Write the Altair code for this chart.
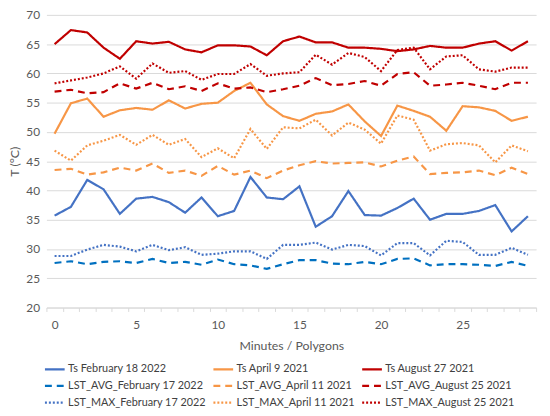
import altair as alt
import pandas as pd

minutes = list(range(30))

series_names = [
    "Ts February 18 2022", "Ts April 9 2021", "Ts August 27 2021",
    "LST_AVG_February 17 2022", "LST_AVG_April 11 2021", "LST_AVG_August 25 2021",
    "LST_MAX_February 17 2022", "LST_MAX_April 11 2021", "LST_MAX_August 25 2021",
]

ts_feb = [35.7, 37.2, 41.8, 40.2, 36.0, 38.6, 38.9, 38.0, 36.2, 38.8,
          35.6, 36.5, 42.3, 38.8, 38.5, 40.7, 33.8, 35.6, 39.9, 35.8,
          35.7, 37.0, 38.6, 35.0, 36.0, 36.0, 36.5, 37.5, 33.0, 35.6]
ts_apr = [49.7, 54.9, 55.7, 52.6, 53.7, 54.1, 53.8, 55.4, 54.0, 54.8,
          55.0, 57.0, 58.4, 54.7, 52.7, 51.9, 53.1, 53.5, 54.7, 51.8,
          49.3, 54.5, 53.6, 52.6, 50.2, 54.4, 54.2, 53.6, 51.9, 52.6]
ts_aug = [65.0, 67.4, 67.0, 64.4, 62.5, 65.5, 65.1, 65.4, 64.1, 63.6,
          64.8, 64.8, 64.6, 63.1, 65.5, 66.3, 65.3, 65.3, 64.4, 64.4,
          64.2, 63.8, 64.1, 64.7, 64.4, 64.4, 65.1, 65.5, 63.9, 65.5]
avg_feb = [27.6, 27.9, 27.4, 27.8, 27.9, 27.6, 28.3, 27.6, 27.8, 27.3,
           28.2, 27.4, 27.2, 26.6, 27.4, 28.1, 28.1, 27.5, 27.4, 27.8,
           27.4, 28.3, 28.4, 27.2, 27.4, 27.4, 27.3, 27.1, 27.8, 27.1]
avg_apr = [43.5, 43.7, 42.7, 43.1, 43.9, 43.4, 44.6, 43.0, 43.4, 42.5,
           44.2, 42.7, 43.4, 42.1, 43.4, 44.3, 45.0, 44.6, 44.7, 44.8,
           44.1, 45.1, 45.8, 42.8, 43.0, 43.1, 43.4, 42.6, 43.9, 42.8]
avg_aug = [56.9, 57.2, 56.6, 56.8, 58.3, 57.4, 58.4, 57.3, 57.8, 57.0,
           58.3, 57.4, 57.6, 56.8, 57.3, 57.9, 59.2, 58.0, 58.2, 58.7,
           57.9, 59.9, 60.2, 57.9, 58.1, 58.4, 57.9, 57.3, 58.4, 58.4]
max_feb = [28.8, 28.8, 29.9, 30.7, 30.4, 29.6, 30.7, 29.8, 30.3, 29.0,
           29.2, 29.6, 29.6, 28.3, 30.7, 30.7, 31.1, 29.9, 30.7, 30.5,
           28.9, 31.0, 31.0, 28.9, 31.4, 31.2, 29.0, 29.0, 30.2, 29.0]
max_apr = [46.8, 45.1, 47.7, 48.5, 49.5, 47.8, 49.5, 47.8, 48.8, 45.7,
           47.2, 45.5, 50.5, 47.1, 50.8, 50.6, 52.1, 49.4, 51.6, 50.4,
           48.0, 52.8, 52.1, 46.8, 47.9, 48.1, 47.7, 44.8, 47.7, 46.7]
max_aug = [58.3, 58.8, 59.3, 60.0, 61.2, 59.1, 61.7, 60.1, 60.4, 58.9,
           59.9, 59.9, 61.6, 59.6, 60.0, 60.2, 63.2, 61.5, 63.5, 62.8,
           60.4, 64.0, 64.4, 60.7, 62.9, 63.1, 60.7, 60.3, 61.0, 61.0]

all_values = [ts_feb, ts_apr, ts_aug, avg_feb, avg_apr, avg_aug, max_feb, max_apr, max_aug]

colors = ["#4472C4", "#F79646", "#C00000",
          "#0070C0", "#F79646", "#C00000",
          "#4472C4", "#F79646", "#C00000"]
dashes = [[1, 0], [1, 0], [1, 0],
          [7, 5], [7, 5], [7, 5],
          [2, 2], [2, 2], [2, 2]]
widths = [2.2, 2.2, 2.2, 2.6, 2.6, 2.6, 2.2, 2.2, 2.2]

rows = []
for name, vals in zip(series_names, all_values):
    for m, v in zip(minutes, vals):
        rows.append({"minute": m, "T": v, "series": name})
df = pd.DataFrame(rows)

x_ticks = [i - 0.5 for i in range(31)]

chart = alt.Chart(df).mark_line().encode(
    x=alt.X("minute:Q",
            scale=alt.Scale(domain=[-0.5, 29.5], nice=False, zero=False),
            axis=alt.Axis(values=x_ticks, grid=False, tickSize=4,
                          tickColor="#D9D9D9", domainColor="#D9D9D9",
                          labelExpr="((datum.value + 0.5) % 5 == 0 && datum.value < 29) ? format(datum.value + 0.5, 'd') : ''",
                          labelOffset=8.3, labelFlush=False, labelOverlap=False,
                          labelBound=False, labelPadding=8,
                          title="Minutes / Polygons", titlePadding=10)),
    y=alt.Y("T:Q",
            scale=alt.Scale(domain=[20, 70], nice=False, zero=False),
            axis=alt.Axis(values=list(range(20, 71, 5)), ticks=False, domain=False,
                          gridColor="#D9D9D9", labelPadding=7,
                          title="T (°C)", titlePadding=4)),
    color=alt.Color("series:N", sort=series_names,
                    scale=alt.Scale(domain=series_names, range=colors),
                    legend=alt.Legend(title=None, orient="none", legendX=-3, legendY=348,
                                      columns=3, columnPadding=3, rowPadding=-2,
                                      symbolType="stroke", symbolSize=400,
                                      symbolStrokeWidth=2, labelFontSize=11,
                                      labelColor="#404040", labelOffset=2,
                                      padding=0, direction="horizontal")),
    strokeDash=alt.StrokeDash("series:N", sort=series_names,
                              scale=alt.Scale(domain=series_names, range=dashes)),
    strokeWidth=alt.StrokeWidth("series:N", sort=series_names,
                                scale=alt.Scale(domain=series_names, range=widths),
                                legend=None),
).properties(
    width=497, height=297,
    autosize=alt.AutoSizeParams(type="none"),
    padding={"left": 39, "top": 4, "right": 6, "bottom": 99},
).configure(
    font="Lato",
).configure_axis(
    labelFontSize=12, labelColor="#595959",
    titleFontSize=12.5, titleColor="#595959", titleFontWeight="normal",
).configure_view(stroke=None)

chart.save("out.html", embed_options={"renderer": "svg", "actions": False})
